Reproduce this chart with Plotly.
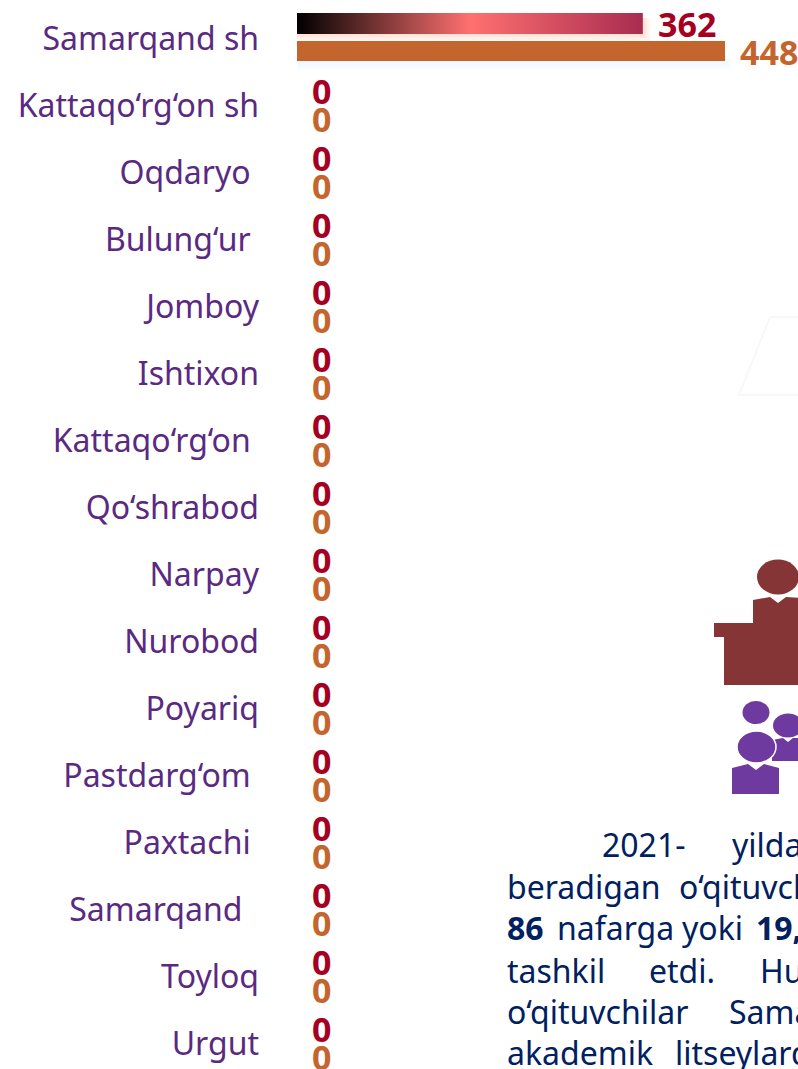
import plotly.graph_objects as go

# ---- data ----
categories = ["Samarqand sh", "Kattaqo‘rg‘on sh", "Oqdaryo", "Bulung‘ur", "Jomboy", "Ishtixon",
              "Kattaqo‘rg‘on", "Qo‘shrabod", "Narpay", "Nurobod", "Poyariq", "Pastdarg‘om",
              "Paxtachi", "Samarqand", "Toyloq", "Urgut"]
label_pad = [0, 0, 1, 1, 0, 0, 1, 0, 0, 0, 0, 1, 1, 2, 0, 0]
series_a = [362, 0, 0, 0, 0, 0, 0, 0, 0, 0, 0, 0, 0, 0, 0, 0]
series_b = [448, 0, 0, 0, 0, 0, 0, 0, 0, 0, 0, 0, 0, 0, 0, 0]

W, H = 798, 1069
AXIS_LEFT = 297
PX_PER_UNIT = 428 / 448
ROW_PITCH = 67
ROW0 = 38
LABEL_FONT = "Noto Sans"
RED, ORANGE, PURPLE, NAVY = "#A50021", "#C4652D", "#5A2A82", "#002060"

rows = list(range(len(categories)))
def dy(px):  # pixel offset within a row -> row units
    return px / ROW_PITCH
def px(x):
    return x / W
def py(y):
    return 1 - y / H

fig = go.Figure()

# soft glows below the non-zero bars
shapes = []
for k in range(1, 9):
    shapes.append(dict(type="rect", xref="x", yref="y", layer="below", line_width=0,
                       x0=0, x1=series_a[0] + k * 1.0,
                       y0=dy(-20), y1=dy(-4 + k * 0.9),
                       fillcolor="rgba(247,170,110,0.045)"))
    shapes.append(dict(type="rect", xref="x", yref="y", layer="below", line_width=0,
                       x0=0, x1=series_b[0] + k * 1.0,
                       y0=dy(20), y1=dy(23 + k * 1.3),
                       fillcolor="rgba(150,180,245,0.02)"))

# series A: gradient bars, series B: solid bars
for i, v in zip(rows, series_a):
    if v > 0:
        top, bottom = i + dy(-25), i + dy(-4)
        fig.add_trace(go.Scatter(
            x=[0, v, v, 0, 0], y=[top, top, bottom, bottom, top], mode="lines", line_width=0,
            fill="toself", hoverinfo="skip", showlegend=False,
            fillgradient=dict(type="horizontal", start=0, stop=v,
                              colorscale=[[0, "#000000"], [0.5, "#FF7070"], [1, "#A82C50"]])))
fig.add_trace(go.Bar(x=series_b, y=rows, orientation="h", marker_color=ORANGE, marker_line_width=0,
                     width=dy(20), offset=dy(3), showlegend=False))

# value labels
ann = []
for i, a, b in zip(rows, series_a, series_b):
    ann.append(dict(x=a, y=i + dy(-14), xref="x", yref="y", text=f"<b>{a}</b>", showarrow=False,
                    xanchor="left", yanchor="middle", xshift=13, font=dict(family=LABEL_FONT, size=34, color=RED)))
    ann.append(dict(x=b, y=i + dy(14), xref="x", yref="y", text=f"<b>{b}</b>", showarrow=False,
                    xanchor="left", yanchor="middle", xshift=13, font=dict(family=LABEL_FONT, size=34, color=ORANGE)))

# paragraph beside the chart
para = [
    (600, 844, "2021-"), (730, 844, "yilda"),
    (505, 886, "beradigan"), (677, 886, "o‘qituvchilar"),
    (505, 927, "<b>86</b>"), (555, 927, "nafarga"), (680, 927, "yoki"), (754, 927, "<b>19,</b>"),
    (505, 970, "tashkil"), (647, 970, "etdi."), (758, 970, "Hududlar"),
    (505, 1011, "o‘qituvchilar"), (727, 1011, "Samarqand"),
    (505, 1052, "akademik"), (673, 1052, "litseylarda"),
]
for x, y, t in para:
    ann.append(dict(x=px(x), y=py(y), xref="paper", yref="paper", text=t, showarrow=False,
                    xanchor="left", yanchor="middle", font=dict(family=LABEL_FONT, size=32, color=NAVY)))

# decorative icons
TEACHER, STUDENT = "#853535", "#6F3AA0"
def ell(cx, cy, rx, ry, color, line=None):
    return dict(type="circle", xref="paper", yref="paper", x0=px(cx - rx), x1=px(cx + rx),
                y0=py(cy - ry), y1=py(cy + ry), fillcolor=color,
                line=dict(color=line or color, width=1.5 if line else 0))
def poly(pts, color, line=None, fill=True, width=1.5):
    d = "M " + " L ".join(f"{px(x):.5f},{py(y):.5f}" for x, y in pts) + (" Z" if fill else "")
    return dict(type="path", xref="paper", yref="paper", path=d, fillcolor=color if fill else None,
                line=dict(color=line or color, width=width if line else 0))

shapes += [
    poly([(770, 317), (810, 317)], "#F8F8F8", "#F8F8F8", fill=False, width=2),
    poly([(770, 317), (739, 395), (810, 395)], "#F8F8F8", "#F8F8F8", fill=False, width=2),
    ell(778, 577, 21, 17.5, TEACHER),
    poly([(753, 600), (770, 597), (778, 603), (786, 597), (802, 598), (802, 685), (724, 685),
          (724, 637), (714, 637), (714, 623), (753, 623)], TEACHER),
    ell(756, 712.5, 13.5, 11.5, STUDENT),
    ell(788, 725.5, 15, 12, STUDENT),
    poly([(772, 740), (783, 738), (788, 742), (793, 738), (802, 738), (802, 761), (772, 761)], STUDENT),
    ell(756.5, 747, 19.5, 16, STUDENT, "white"),
    poly([(732, 768), (748, 764), (756, 770), (764, 764), (779, 768), (779, 794), (732, 794)], STUDENT),
]

fig.update_layout(
    width=W, height=H, margin=dict(l=0, r=0, t=0, b=0), paper_bgcolor="white", plot_bgcolor="rgba(0,0,0,0)",
    showlegend=False, annotations=ann, shapes=shapes, bargap=0,
    xaxis=dict(domain=[AXIS_LEFT / W, 1], range=[0, (W - AXIS_LEFT) / PX_PER_UNIT], visible=False),
    yaxis=dict(range=[(H - ROW0) / ROW_PITCH, -ROW0 / ROW_PITCH], tickmode="array", tickvals=rows,
               ticktext=[c + "\u00a0" * p for c, p in zip(categories, label_pad)],
               tickfont=dict(family=LABEL_FONT, size=32, color=PURPLE), ticks="", showgrid=False,
               zeroline=False, showline=False, ticklabelstandoff=37, ticklabelshift=-1,
               automargin=False, anchor="x"),
)
fig.write_html("out.html", config={"displayModeBar": False},
               post_script="document.body.style.margin='0';document.body.style.overflow='hidden';")
